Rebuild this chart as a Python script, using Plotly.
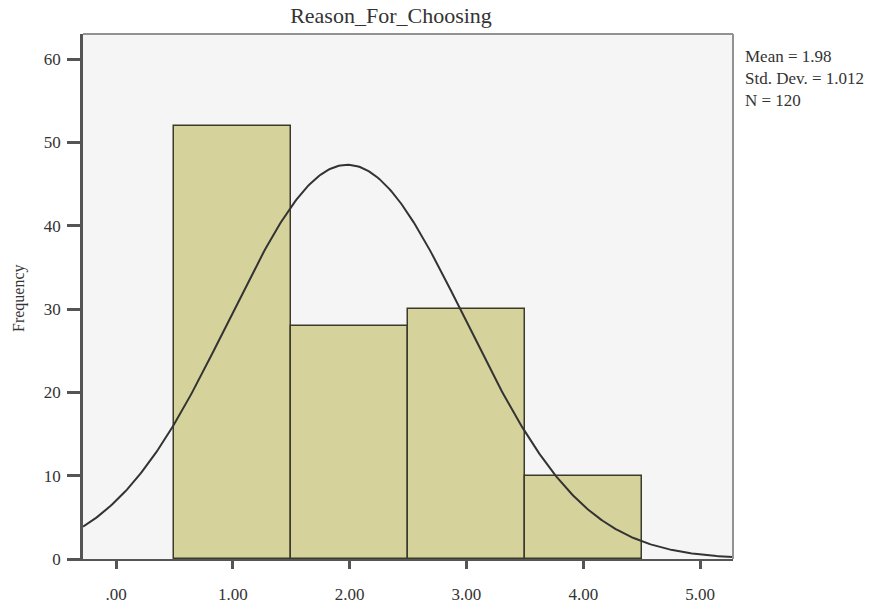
import numpy as np
import plotly.graph_objects as go

# Data
bin_centers = [1, 2, 3, 4]
frequencies = [52, 28, 30, 10]
tick_values = [0, 1, 2, 3, 4, 5]
tick_labels = [".00", "1.00", "2.00", "3.00", "4.00", "5.00"]
y_tick_values = [0, 10, 20, 30, 40, 50, 60]
mean_value = 1.98
std_dev = 1.012
n_obs = 120
bin_width = 1.0

x_range = [-0.2825, 5.282]
y_range = [0, 63.0]

# Fitted normal curve (defined by the chart's own statistics)
curve_x = np.linspace(x_range[0], x_range[1], 400)
curve_y = n_obs * bin_width * np.exp(-0.5 * ((curve_x - mean_value) / std_dev) ** 2) / (std_dev * np.sqrt(2 * np.pi))

FONT = "Liberation Serif"
L, R, T, B = 83, 142, 34, 50
PW, PH = 875 - L - R, 609 - T - B

fig = go.Figure()
fig.add_trace(go.Bar(
    x=bin_centers, y=frequencies, width=bin_width,
    marker=dict(color="#d6d29b", line=dict(color="#3b3b2c", width=1.5)),
    showlegend=False, hoverinfo="x+y",
))
fig.add_trace(go.Scatter(
    x=curve_x, y=curve_y, mode="lines",
    line=dict(color="#333333", width=2), showlegend=False, hoverinfo="skip",
))

fig.update_layout(
    width=875, height=609,
    margin=dict(l=L, r=R, t=T, b=B, autoexpand=False),
    paper_bgcolor="white", plot_bgcolor="#f5f5f5",
    font=dict(family=FONT, size=17, color="#333333"),
    title=dict(text="Reason_For_Choosing", x=(391 - L) / PW, xref="paper", xanchor="center",
               y=1 - 15 / 609, yref="container", yanchor="middle",
               font=dict(family=FONT, size=22, color="#333333")),
    bargap=0,
)
fig.update_xaxes(
    range=x_range, tickvals=tick_values, ticktext=tick_labels,
    showgrid=False, zeroline=False, automargin=False,
    showline=True, linecolor="#555555", linewidth=2,
    ticks="outside", ticklen=8, tickwidth=2.5, tickcolor="#555555",
    ticklabelstandoff=11, tickfont=dict(family=FONT, size=17, color="#333333"),
)
fig.update_yaxes(
    range=y_range, tickvals=y_tick_values,
    showgrid=False, zeroline=False, automargin=False,
    showline=True, linecolor="#555555", linewidth=2.5,
    ticks="outside", ticklen=13, tickwidth=2.5, tickcolor="#555555",
    ticklabelstandoff=3, tickfont=dict(family=FONT, size=17, color="#333333"),
)
# light frame on top and right
fig.add_shape(type="line", xref="paper", yref="paper", x0=0, x1=1, y0=1, y1=1,
              line=dict(color="#929292", width=2))
fig.add_shape(type="line", xref="paper", yref="paper", x0=1, x1=1, y0=0, y1=1,
              line=dict(color="#929292", width=2))

fig.add_annotation(text="Frequency", xref="paper", yref="paper",
                   x=-(L - 19) / PW, y=(559 - 298) / PH, textangle=-90,
                   showarrow=False, xanchor="center", yanchor="middle",
                   font=dict(family=FONT, size=16, color="#333333"))
fig.add_annotation(text=f"Mean = {mean_value}<br>Std. Dev. = {std_dev}<br>N = {n_obs}",
                   xref="paper", yref="paper", x=(743 - L) / PW, y=(559 - 45) / PH,
                   xanchor="left", yanchor="top", align="left", showarrow=False,
                   font=dict(family=FONT, size=17, color="#333333"))

fig.write_html("out.html", config={"displayModeBar": False},
               post_script="document.body.style.margin='0';")
